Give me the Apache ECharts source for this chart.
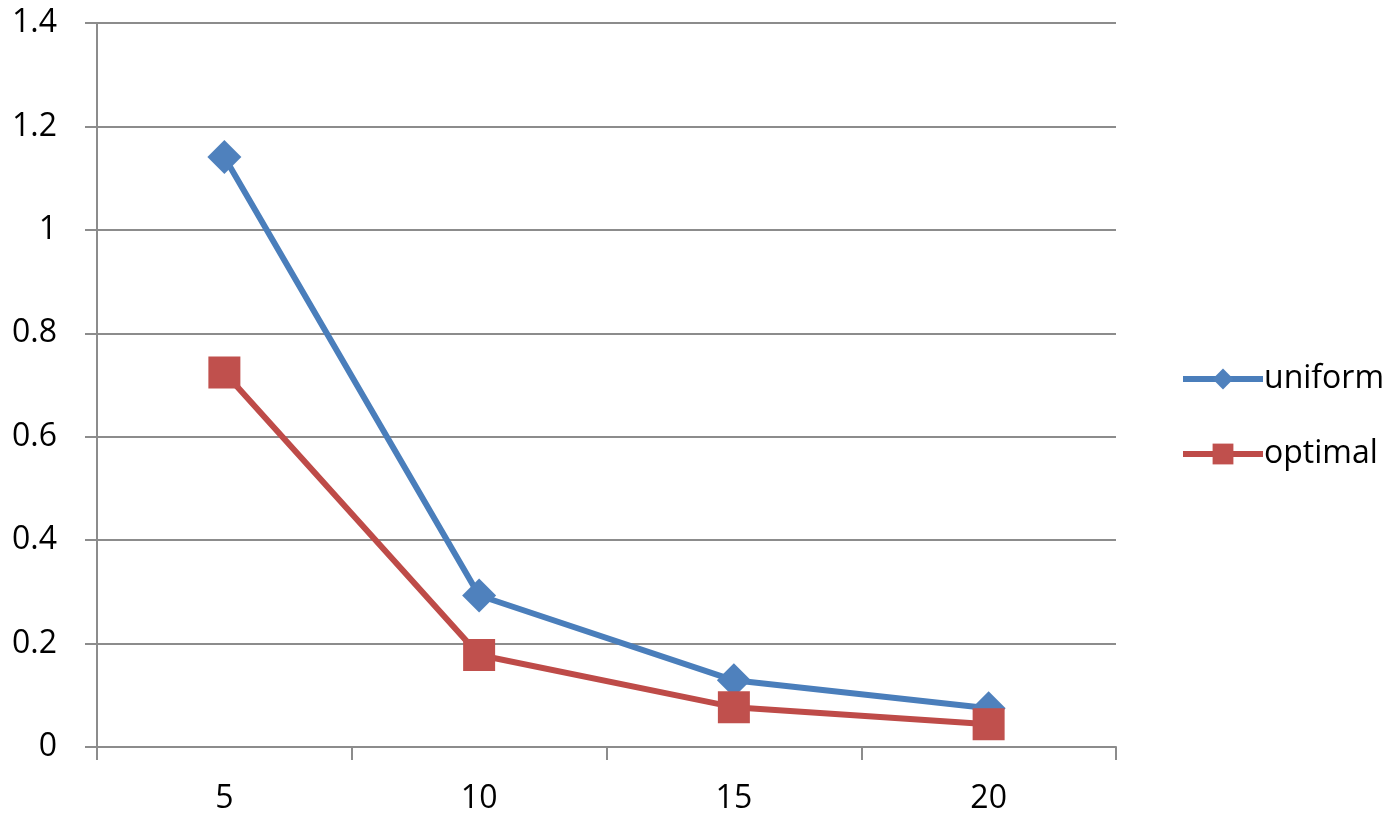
<!DOCTYPE html>
<html>
<head>
<meta charset="utf-8">
<script src="https://cdn.jsdelivr.net/npm/echarts@6/dist/echarts.min.js"></script>
<style>html,body{margin:0;padding:0;background:#fff;}#c{width:1400px;height:820px;}</style>
</head>
<body>
<div id="c"></div>
<script>
const categories = ['5', '10', '15', '20'];
const uniform = [1.141, 0.293, 0.129, 0.075];
const optimal = [0.724, 0.178, 0.077, 0.044];
const yTicks = { min: 0, max: 1.4, interval: 0.2 };

const chart = echarts.init(document.getElementById('c'));
const font = '"Open Sans", "Liberation Sans", sans-serif';
const gray = '#8c8c8c';
chart.setOption({
  animation: false,
  backgroundColor: '#ffffff',
  grid: { left: 97, right: 284, top: 23, bottom: 73 },
  legend: {
    orient: 'vertical',
    left: 1175,
    top: 358,
    itemWidth: 80,
    itemHeight: 26,
    itemGap: 43,
    lineStyle: { width: 6 },
    textStyle: { fontFamily: font, fontSize: 32, color: '#000', padding: [0, 0, 0, -4] },
    data: ['uniform', 'optimal']
  },
  xAxis: {
    type: 'category',
    data: categories,
    boundaryGap: true,
    axisLine: { lineStyle: { color: gray, width: 2 } },
    axisTick: { show: true, length: 13, interval: 0, lineStyle: { color: gray, width: 2 } },
    axisLabel: { fontFamily: font, fontSize: 32, color: '#000', margin: 36 },
    splitLine: { show: false }
  },
  yAxis: {
    type: 'value',
    min: yTicks.min,
    max: yTicks.max,
    interval: yTicks.interval,
    axisLine: { show: true, lineStyle: { color: gray, width: 2 } },
    axisTick: { show: true, length: 12, lineStyle: { color: gray, width: 2 } },
    axisLabel: { fontFamily: font, fontSize: 32, color: '#000', margin: 40,
      formatter: v => String(Math.round(v * 10) / 10) },
    splitLine: { show: true, lineStyle: { color: gray, width: 2 } }
  },
  series: [
    {
      name: 'uniform', type: 'line', data: uniform,
      symbol: 'diamond', symbolSize: 34,
      lineStyle: { color: '#4a7ebb', width: 6 },
      itemStyle: { color: '#4f81bd' }
    },
    {
      name: 'optimal', type: 'line', data: optimal,
      symbol: 'rect', symbolSize: 32,
      lineStyle: { color: '#be4b48', width: 6 },
      itemStyle: { color: '#c0504d' }
    }
  ]
});
</script>
</body>
</html>
